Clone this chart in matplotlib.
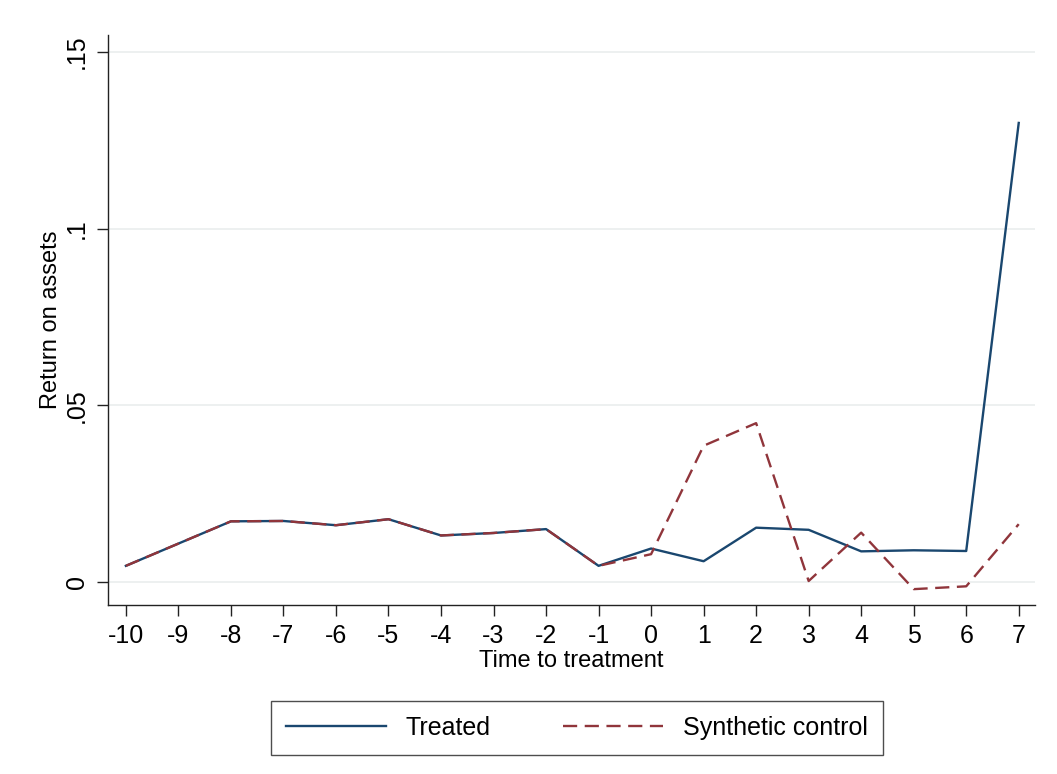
import matplotlib.pyplot as plt

plt.rcParams['font.family'] = ['Liberation Sans', 'DejaVu Sans']

# データ
time = [-10, -9, -8, -7, -6, -5, -4, -3, -2, -1, 0, 1, 2, 3, 4, 5, 6, 7]
treated = [0.0045, 0.0108, 0.0171, 0.0172, 0.0160, 0.0177, 0.0131, 0.0138, 0.0149, 0.0045,
           0.0094, 0.0058, 0.0153, 0.0147, 0.0086, 0.0089, 0.0087, 0.1299]
synthetic = [0.0045, 0.0108, 0.0171, 0.0172, 0.0160, 0.0177, 0.0131, 0.0138, 0.0149, 0.0045,
             0.0078, 0.0385, 0.0449, 0.0002, 0.0139, -0.0021, -0.0013, 0.0163]
yticks = [0, 0.05, 0.1, 0.15]
ylabels = ["0", ".05", ".1", ".15"]

fig = plt.figure(figsize=(10.57, 7.74), dpi=100)
ax = fig.add_axes([0.1022, 0.2183, 0.877, 0.7365])

l1, = ax.plot(time, treated, color="#1a476f", lw=1.7, label="Treated")
l2, = ax.plot(time, synthetic, color="#90353b", lw=1.7, ls=(0, (6, 3.2)), label="Synthetic control")

ax.set_xlim(-10.34, 7.31)
ax.set_ylim(-0.0066, 0.1548)
ax.set_xticks(time)
ax.set_xticklabels([str(t) for t in time])
ax.set_yticks(yticks)
ax.set_yticklabels(ylabels, rotation=90, va="center")
ax.grid(axis="y", color="#eaeeee", lw=1.2)
ax.set_axisbelow(True)

for s in ["top", "right"]:
    ax.spines[s].set_visible(False)
for s in ["left", "bottom"]:
    ax.spines[s].set_color("#222222")
    ax.spines[s].set_linewidth(1.0)
ax.tick_params(labelsize=18, length=8, width=1, color="#222222", pad=6)

ax.set_xlabel("Time to treatment", fontsize=17, labelpad=1)
ax.set_ylabel("Return on assets", fontsize=17, labelpad=2)

leg = fig.legend(handles=[l1, l2], loc="center", bbox_to_anchor=(0.546, 0.0594), ncol=2,
                 fontsize=18, frameon=True, fancybox=False, handlelength=4.0,
                 columnspacing=2.9, borderpad=0.6, edgecolor="#222222")
leg.get_frame().set_linewidth(1.0)

fig.savefig("out.png", dpi=100)
